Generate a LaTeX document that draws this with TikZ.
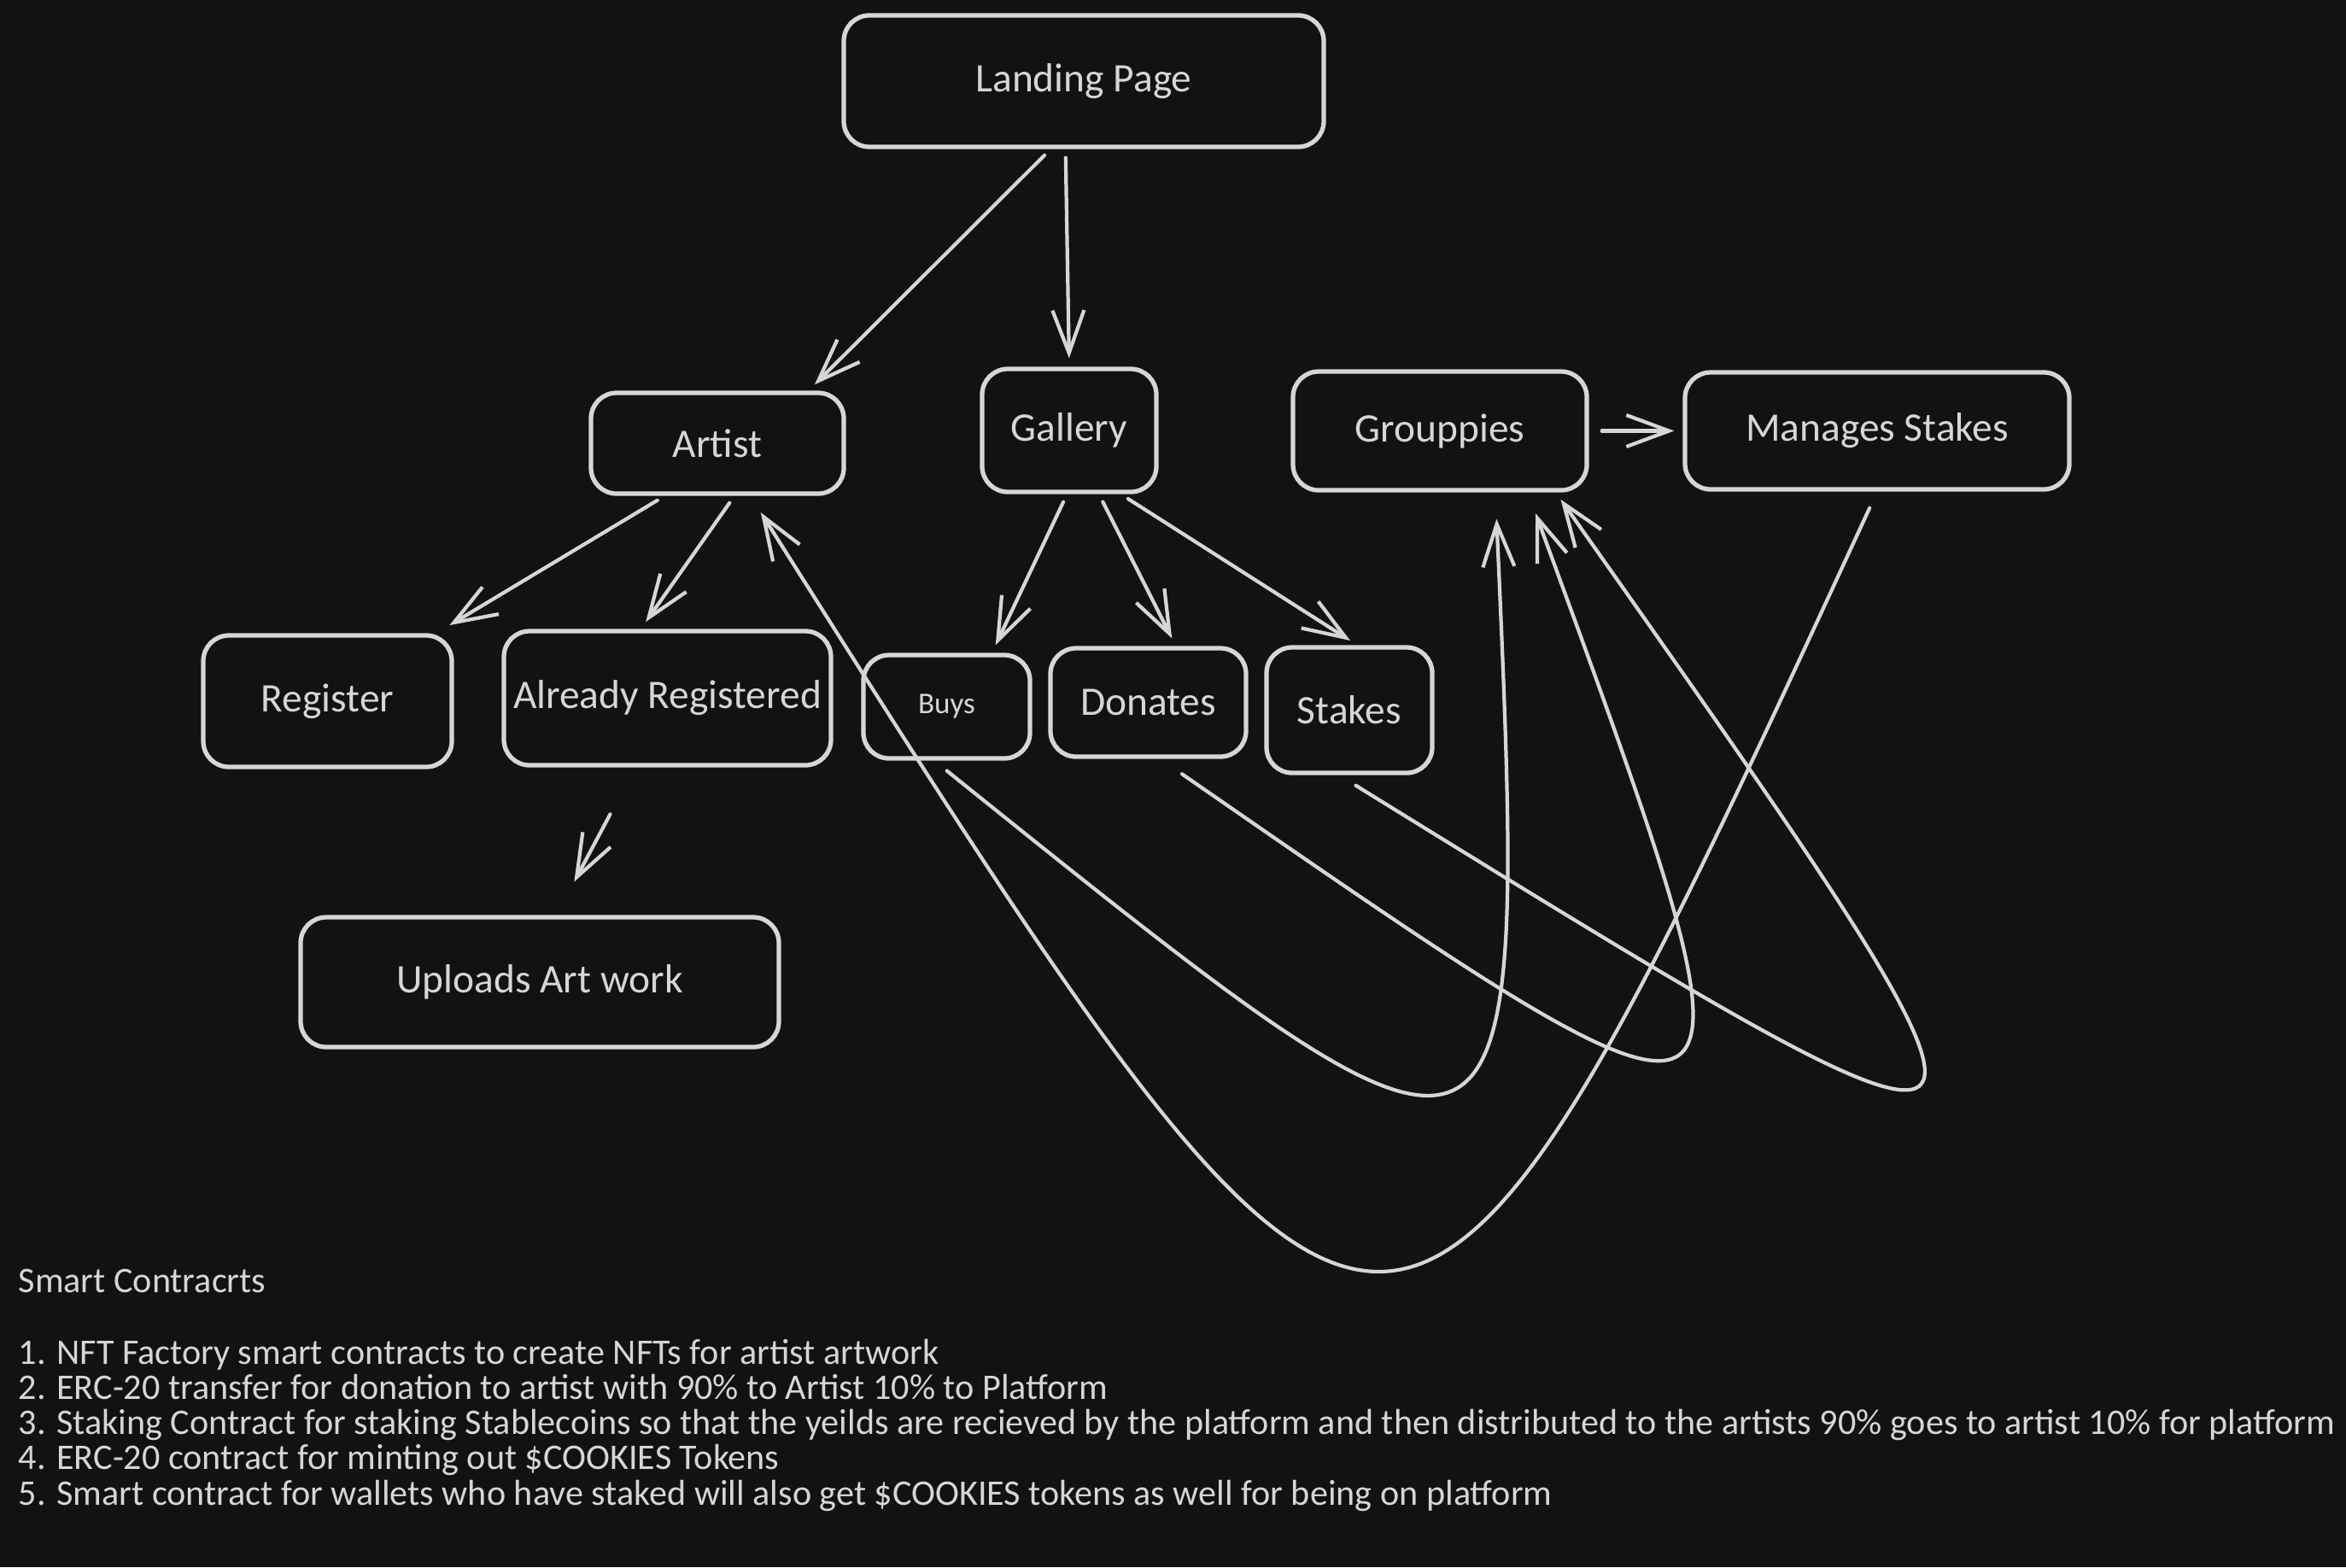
\documentclass[tikz,border=0pt]{standalone}
\usepackage{fontspec}
\setmainfont{Carlito}
\usepackage{tikz}
\usetikzlibrary{arrows.meta}
\definecolor{sketchgrey}{RGB}{214,214,214}
\definecolor{canvasblack}{RGB}{18,18,18}

\begin{document}
\begin{tikzpicture}[
    box/.style={draw=sketchgrey, line width=1.5pt, rounded corners=3mm, inner sep=0pt,
        text=sketchgrey, font=\fontsize{13.5}{16}\selectfont},
    flow/.style={draw=sketchgrey, line width=1.2pt, line cap=round, line join=round,
        -{Straight Barb[length=5mm,width=3.7mm]}, shorten <=1mm, shorten >=1mm},
    note/.style={text=sketchgrey, inner sep=0pt, font=\fontsize{12}{14}\selectfont}]
    \path[use as bounding box, fill=canvasblack] (0,0) rectangle (27.47,-18.35);

    % top level
    \node[box, minimum width=5.62cm, minimum height=1.54cm] (lp) at (12.69,-0.95) {Landing Page};
    \node[box, minimum width=2.96cm, minimum height=1.18cm] (artist) at (8.40,-5.19) {Artist};
    \node[box, minimum width=2.04cm, minimum height=1.44cm] (gallery) at (12.52,-5.04) {Gallery};
    \node[box, minimum width=3.44cm, minimum height=1.39cm] (groupies) at (16.86,-5.045) {Grouppies};
    \node[box, minimum width=4.50cm, minimum height=1.37cm] (stakesmgr) at (21.98,-5.045) {Manages Stakes};

    % second level
    \node[box, minimum width=2.91cm, minimum height=1.54cm] (register) at (3.835,-8.21) {Register};
    \node[box, minimum width=3.83cm, minimum height=1.57cm] (alreadyreg) at (7.815,-8.175) {Already Registered};
    \node[box, minimum width=1.95cm, minimum height=1.21cm, font=\fontsize{10}{12}\selectfont] (buys) at (11.085,-8.275) {Buys};
    \node[box, minimum width=2.29cm, minimum height=1.27cm] (donates) at (13.445,-8.225) {Donates};
    \node[box, minimum width=1.94cm, minimum height=1.47cm] (stakes) at (15.80,-8.315) {Stakes};
    \node[box, minimum width=5.60cm, minimum height=1.52cm] (uploads) at (6.32,-11.50) {Uploads Art work};

    % straight arrows
    \draw[flow] (lp.244) -- (artist.30);
    \draw[flow] (lp.255) -- (gallery.north);
    \draw[flow, shorten >=1.8mm] (artist.225) -- (register.32);
    \draw[flow] (artist.288) -- (alreadyreg.111);
    \draw[flow, shorten <=6.2mm, shorten >=4.4mm] (alreadyreg.245) -- (uploads.76);
    \draw[flow] (gallery.268) -- (buys.50);
    \draw[flow] (gallery.295) -- (donates.64);
    \draw[flow] (gallery.309) -- (stakes.83);
    \draw[flow, shorten <=1.5mm] (groupies.east) -- (stakesmgr.west);

    % loops back up
    \draw[flow, shorten <=2.1mm, shorten >=2.3mm] (stakesmgr.south) .. controls (16.40,-17.85) .. (artist.302);
    \draw[flow, shorten <=1.9mm, shorten >=3.1mm] (buys.257) .. controls (17.90,-14.50) .. (groupies.312);
    \draw[flow, shorten <=3.1mm, shorten >=2.6mm] (donates.282) .. controls (20.90,-13.95) .. (groupies.325);
    \draw[flow, shorten <=2.3mm, shorten >=1mm] (stakes.261) .. controls (24.30,-14.40) .. (groupies.332);

    % contract notes
    \node[note, anchor=base west] (sc) at (0.21,-15.13) {Smart Contracrts};
    \foreach \txt [count=\i] in {
        1. NFT Factory smart contracts to create NFTs for artist artwork,
        2. ERC-20 transfer for donation to artist with 90\% to Artist 10\% to Platform,
        3. Staking Contract for staking Stablecoins so that the yeilds are recieved by the platform and then distributed to the artists 90\% goes to artist 10\% for platform,
        4. ERC-20 contract for minting out \$COOKIES Tokens,
        5. Smart contract for wallets who have staked will also get \$COOKIES tokens as well for being on platform}
        \node[note, anchor=base west] (sc\i) at (0.21,{-15.97-0.4125*(\i-1)}) {\txt};
\end{tikzpicture}
\end{document}
